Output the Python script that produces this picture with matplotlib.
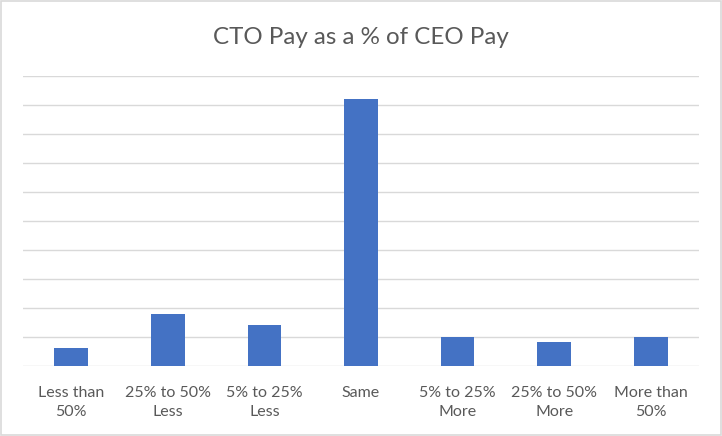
import matplotlib
matplotlib.use("Agg")
import numpy as np
from matplotlib import pyplot as plt
from matplotlib.patches import Rectangle

# categories and values (gridline = 1 unit)
categories = ["Less than\n50%", "25% to 50%\nLess", "5% to 25%\nLess", "Same",
              "5% to 25%\nMore", "25% to 50%\nMore", "More than\n50%"]
values = [0.61, 1.78, 1.40, 9.19, 1.0, 0.82, 1.0]

plt.rcParams['font.family'] = ['Lato', 'DejaVu Sans']

fig = plt.figure(figsize=(7.22, 4.36), dpi=100)
ax = fig.add_axes([0.032, 0.161, 0.936, 0.665])

x = np.arange(len(categories))
ax.bar(x, values, width=0.35, color="#4472C4", zorder=3)

ax.set_xlim(-0.5, len(categories) - 0.5)
ax.set_ylim(0, 10)
ax.set_yticks(np.arange(0, 11, 1))
ax.yaxis.grid(True, color="#d9d9d9", linewidth=1.0, zorder=0)
ax.tick_params(axis='y', left=False, labelleft=False)
ax.tick_params(axis='x', bottom=False, pad=11)
ax.set_xticks(x)
ax.set_xticklabels(categories, fontsize=11.5, color="#595959", linespacing=1.45)
for s in ax.spines.values():
    s.set_visible(False)

fig.text(0.5, 0.915, "CTO Pay as a % of CEO Pay", ha="center", va="center",
         fontsize=17.4, color="#595959")

# chart border
fig.patches.append(Rectangle((0.001, 0.002), 0.997, 0.995, transform=fig.transFigure,
                             fill=False, edgecolor="#d9d9d9", linewidth=1.2))

fig.savefig("out.png", dpi=100)
